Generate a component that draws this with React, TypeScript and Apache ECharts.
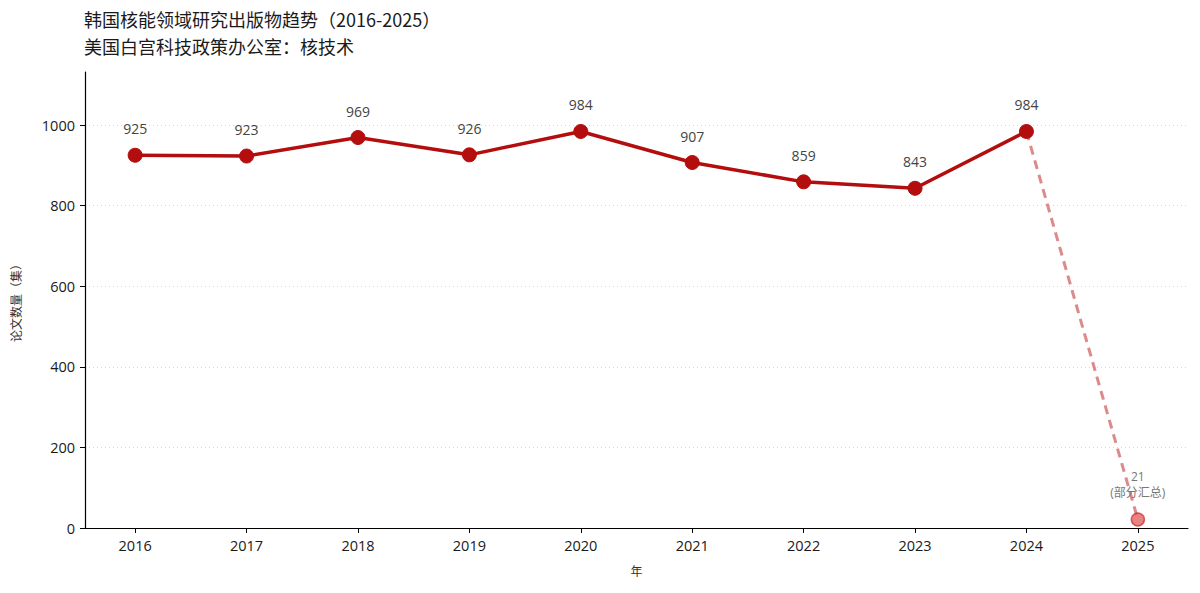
import React, { useEffect, useRef } from "react";
import * as echarts from "echarts";

const years = [2016, 2017, 2018, 2019, 2020, 2021, 2022, 2023, 2024, 2025];
const fullValues = [925, 923, 969, 926, 984, 907, 859, 843, 984];
const partialYear = 2025;
const partialValue = 21;
const yTicks = [0, 200, 400, 600, 800, 1000];
const titleLines = ["韩国核能领域研究出版物趋势（2016-2025）", "美国白宫科技政策办公室：核技术"];

const FONT = "'Noto Sans CJK SC', 'Noto Sans', sans-serif";
const NUMFONT = "'Open Sans', 'Noto Sans CJK SC', sans-serif";

export default function App() {
  const ref = useRef<HTMLDivElement>(null);
  useEffect(() => {
    document.body.style.margin = "0";
    const chart = echarts.init(ref.current!, null, { renderer: "svg" });
    const solid = fullValues.map((v, i) => [years[i], v]);
    const lastFull = solid[solid.length - 1];
    chart.setOption({
      animation: false,
      backgroundColor: "#ffffff",
      textStyle: { fontFamily: FONT },
      title: {
        text: titleLines.join("\n"),
        left: 84,
        top: 5,
        padding: 0,
        textStyle: { fontSize: 18, fontWeight: "normal", color: "#1a1a1a", lineHeight: 27, fontFamily: FONT },
      },
      grid: { left: 85, right: 12, top: 72, bottom: 65 },
      xAxis: {
        type: "value",
        min: 2015.55,
        max: 2025.45,
        name: "年",
        nameLocation: "middle",
        nameGap: 36,
        nameTextStyle: { fontSize: 12, color: "#333" },
        axisLine: { lineStyle: { color: "#000", width: 1.2 } },
        axisTick: { customValues: years, length: 5, lineStyle: { color: "#000" } },
        axisLabel: { customValues: years, fontSize: 14.5, color: "#1a1a1a", margin: 10, fontFamily: NUMFONT, formatter: (v: number) => String(v) },
        splitLine: { show: false },
      },
      yAxis: {
        type: "value",
        min: 0,
        max: 1131.6,
        interval: 200,
        name: "论文数量（集）",
        nameLocation: "middle",
        nameGap: 64,
        nameRotate: 90,
        nameTextStyle: { fontSize: 12, color: "#333" },
        axisLine: { show: true, lineStyle: { color: "#000", width: 1.2 } },
        axisTick: { show: true, customValues: yTicks, length: 5, lineStyle: { color: "#000" } },
        axisLabel: { customValues: yTicks, fontSize: 14.5, color: "#1a1a1a", margin: 10, fontFamily: NUMFONT, formatter: (v: number) => String(v) },
        splitLine: {
          show: true,
          showMinLine: false,
          showMaxLine: true,
          lineStyle: { color: "#d6d6d6", type: [1, 3], width: 1 },
        },
      },
      series: [
        {
          type: "line",
          data: [lastFull, [partialYear, partialValue]],
          lineStyle: { color: "rgba(196,60,60,0.6)", width: 3, type: [9, 6] },
          symbol: "circle",
          symbolSize: (v: number[]) => (v[0] === partialYear ? 13 : 0),
          itemStyle: { color: "rgba(226,90,90,0.75)", borderColor: "rgba(196,40,40,0.7)", borderWidth: 1.5 },
          label: {
            show: true,
            position: "top",
            distance: 12,
            fontSize: 12,
            lineHeight: 16,
            color: "#777",
            fontFamily: NUMFONT,
            formatter: (p: any) => (p.value[0] === partialYear ? `${partialValue}\n(部分汇总)` : ""),
          },
          z: 2,
        },
        {
          type: "line",
          data: solid,
          lineStyle: { color: "#b40d0d", width: 3.5 },
          symbol: "circle",
          symbolSize: 14,
          itemStyle: { color: "#b40d0d", borderColor: "#b40d0d" },
          label: { show: true, position: "top", distance: 12, fontSize: 14, color: "#444", fontFamily: NUMFONT, formatter: (p: any) => String(p.value[1]) },
          z: 3,
        },
      ],
    });
    return () => chart.dispose();
  }, []);
  return <div ref={ref} style={{ width: 1200, height: 593 }} />;
}
